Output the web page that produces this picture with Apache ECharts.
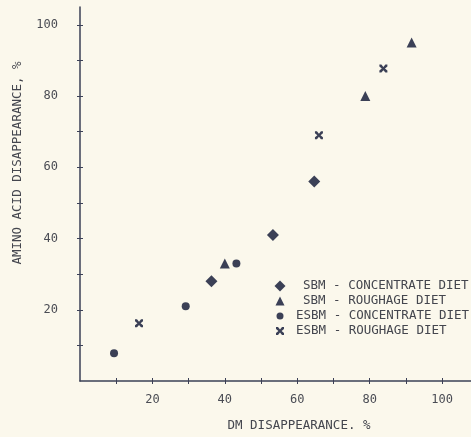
<!DOCTYPE html>
<html>
<head>
<meta charset="utf-8">
<script src="https://cdn.jsdelivr.net/npm/echarts@6/dist/echarts.min.js"></script>
<style>
html, body { margin: 0; padding: 0; background: #fbf8ec; }
#chart { width: 471px; height: 437px; }
</style>
</head>
<body>
<div id="chart"></div>
<script>
// 数据（DM 消失率 x / 氨基酸消失率 y）
var seriesNames = ['SBM - CONCENTRATE DIET', 'SBM - ROUGHAGE DIET', 'ESBM - CONCENTRATE DIET', 'ESBM - ROUGHAGE DIET'];
var sbmConcX = [36.3, 53.3, 64.7];
var sbmConcY = [28, 41, 56];
var sbmRoughX = [40, 78.8, 91.6];
var sbmRoughY = [33, 80, 95];
var esbmConcX = [9.4, 29.2, 43.2];
var esbmConcY = [7.8, 21, 33];
var esbmRoughX = [16.3, 66, 83.8];
var esbmRoughY = [16.2, 69, 87.7];
var tickValues = [10, 20, 30, 40, 50, 60, 70, 80, 90, 100];
var labelValues = [20, 40, 60, 80, 100];

var ink = '#3b4056';
var txt = '#4a4c54';
var mono = 'DejaVu Sans Mono';
var crossIcon = 'path://M0,0 L2.5,0 L5,3 L7.5,0 L10,0 L10,2.5 L7,5 L10,7.5 L10,10 L7.5,10 L5,7 L2.5,10 L0,10 L0,7.5 L3,5 L0,2.5 Z';

var chartObj = {
    init : function() {
        this.mychart = echarts.init(document.getElementById('chart'));
        this.render();
    },
    pairs : function(xs, ys) {
        var out = [];
        xs.forEach(function(item, index) {
            out.push([item, ys[index]]);
        });
        return out;
    },
    // 单独一个图例，便于控制每个符号大小
    legendItem : function(name, icon, size, top, textLeft) {
        return {
            data : [{ name : name, icon : icon }],
            orient : 'vertical',
            left : 280 - size / 2,
            top : top,
            padding : 0,
            itemWidth : size,
            itemHeight : size,
            textStyle : {
                fontFamily : mono,
                fontSize : 12.5,
                color : '#44464e',
                lineHeight : 14,
                padding : [0, 0, 0, textLeft - (280 + size / 2 + 5)]
            }
        };
    },
    render : function() {
        var that = this;
        var axisCommon = function(max, inside, showLabel) {
            return {
                type : 'value',
                min : 0,
                max : max,
                splitLine : { show : false },
                axisLine : {
                    show : !inside,
                    lineStyle : { color : ink, width : 1.5 }
                },
                axisTick : {
                    show : true,
                    inside : inside,
                    length : 3,
                    customValues : tickValues,
                    lineStyle : { color : ink, width : 1 }
                },
                axisLabel : {
                    show : showLabel,
                    customValues : labelValues,
                    fontFamily : mono,
                    fontSize : 12,
                    color : txt
                }
            };
        };
        var x0 = axisCommon(108, false, true);
        x0.position = 'bottom';
        x0.axisLabel.margin = 13;
        x0.name = 'DM DISAPPEARANCE. %';
        x0.nameLocation = 'middle';
        x0.nameGap = 38;
        x0.nameTextStyle = { fontFamily : mono, fontSize : 12.5, color : '#44464e', padding : [0, 0, 0, 47] };
        var x1 = axisCommon(108, true, false);
        x1.position = 'bottom';
        var y0 = axisCommon(105, false, true);
        y0.position = 'left';
        y0.axisLabel.margin = 22;
        y0.name = 'AMINO ACID DISAPPEARANCE, %';
        y0.nameLocation = 'middle';
        y0.nameGap = 56;
        y0.nameTextStyle = { fontFamily : mono, fontSize : 12.5, color : '#44464e', padding : [0, 0, 0, 62] };
        var y1 = axisCommon(105, true, false);
        y1.position = 'left';

        var option = {
            backgroundColor : '#fbf8ec',
            animation : false,
            grid : {
                left : 80,
                right : 0,
                top : 7,
                bottom : 53
            },
            legend : [
                that.legendItem(seriesNames[0], 'diamond', 11, 279, 303),
                that.legendItem(seriesNames[1], 'triangle', 9, 294, 303),
                that.legendItem(seriesNames[2], 'circle', 7, 309, 296),
                that.legendItem(seriesNames[3], crossIcon, 8, 324, 296)
            ],
            xAxis : [x0, x1],
            yAxis : [y0, y1],
            series : [{
                name : seriesNames[0],
                type : 'scatter',
                symbol : 'diamond',
                symbolSize : 12,
                data : that.pairs(sbmConcX, sbmConcY),
                itemStyle : { color : ink, opacity : 1 }
            }, {
                name : seriesNames[1],
                type : 'scatter',
                symbol : 'triangle',
                symbolSize : 10,
                data : that.pairs(sbmRoughX, sbmRoughY),
                itemStyle : { color : ink, opacity : 1 }
            }, {
                name : seriesNames[2],
                type : 'scatter',
                symbol : 'circle',
                symbolSize : 8,
                data : that.pairs(esbmConcX, esbmConcY),
                itemStyle : { color : ink, opacity : 1 }
            }, {
                name : seriesNames[3],
                type : 'scatter',
                symbol : crossIcon,
                symbolSize : 8,
                data : that.pairs(esbmRoughX, esbmRoughY),
                itemStyle : { color : ink, opacity : 1 }
            }]
        };
        that.mychart.setOption(option);
    }
};
chartObj.init();
</script>
</body>
</html>
